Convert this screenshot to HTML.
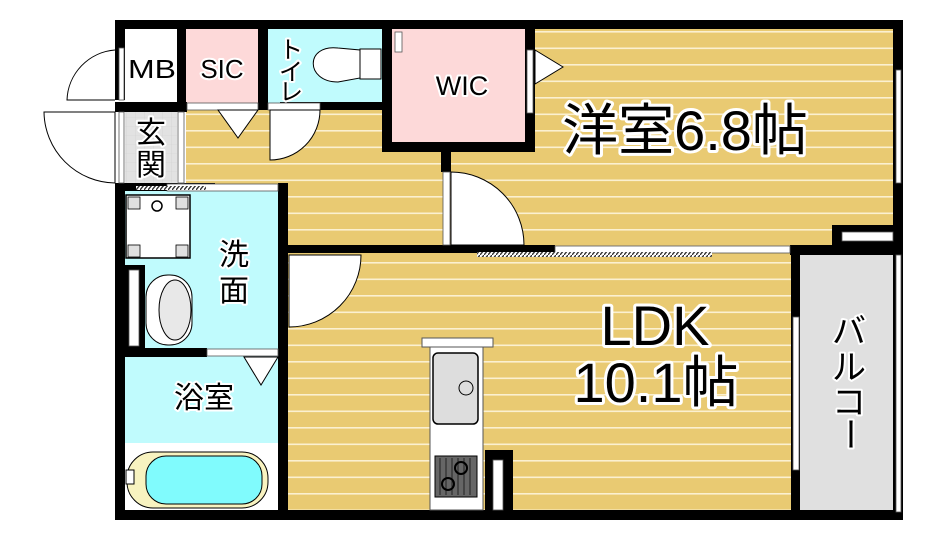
<!DOCTYPE html><html><head><meta charset="utf-8"><style>
body{margin:0;background:#fff;width:949px;height:546px;overflow:hidden}
text{font-family:"Liberation Sans","Noto Sans CJK JP",sans-serif;paint-order:stroke;stroke:#fff;stroke-linejoin:round}
</style></head><body>
<svg width="949" height="546" viewBox="0 0 949 546" xmlns="http://www.w3.org/2000/svg">
<defs>
<pattern id="wood" width="10" height="16.5" patternUnits="userSpaceOnUse"><rect width="10" height="16.5" fill="#e9ca72"/><rect y="14.5" width="10" height="1.6" fill="#fbf0d0"/></pattern>
<pattern id="hatch" width="4" height="5" patternUnits="userSpaceOnUse"><rect width="4" height="5" fill="#fff"/><path d="M0 5 L4 0" stroke="#333" stroke-width="1.4"/></pattern>
<pattern id="tile" width="9" height="9" patternUnits="userSpaceOnUse"><rect width="9" height="9" fill="#e2e2e2"/><path d="M0 0H9M0 0V9" stroke="#d0d0d0" stroke-width=".6"/></pattern>
</defs>
<rect x="186" y="108" width="260" height="140" fill="url(#wood)"/>
<rect x="446" y="24" width="452" height="224" fill="url(#wood)"/>
<rect x="284" y="250" width="512" height="265" fill="url(#wood)"/>
<rect x="125" y="29" width="54" height="75" fill="#fff"/>
<rect x="186" y="29" width="72" height="75" fill="#fdd9d9"/>
<rect x="268" y="29" width="114" height="75" fill="#c0fbfd"/>
<rect x="392" y="29" width="133" height="113" fill="#fdd9d9"/>
<rect x="125" y="112" width="52" height="71" fill="url(#tile)"/>
<rect x="125" y="190" width="155" height="322" fill="#c0fbfd"/>
<rect x="800" y="255" width="93" height="257" fill="#e0e0e0"/>
<g fill="#000">
<rect x="115" y="20" width="788" height="9"/>
<rect x="115" y="20" width="10" height="80"/>
<rect x="115" y="183" width="10" height="337"/>
<rect x="115" y="510" width="788" height="10"/>
<rect x="177" y="20" width="9" height="92"/>
<rect x="258" y="20" width="10" height="90"/>
<rect x="115" y="102" width="72" height="10"/>
<rect x="280" y="102" width="110" height="8"/>
<rect x="382" y="20" width="10" height="132"/>
<rect x="382" y="142" width="153" height="10"/>
<rect x="525" y="20" width="10" height="132"/>
<rect x="441" y="152" width="10" height="20"/>
<rect x="893" y="20" width="10" height="500"/>
<rect x="288" y="245" width="267" height="8"/>
<rect x="790" y="245" width="113" height="10"/>
<rect x="791" y="245" width="9" height="275"/>
<rect x="832" y="225" width="71" height="20"/>
<rect x="115" y="183" width="100" height="8"/>
<rect x="278" y="183" width="10" height="337"/>
<rect x="125" y="348" width="82" height="9"/>
<rect x="125" y="265" width="20" height="85"/>
<rect x="485" y="450" width="28" height="62"/>
</g>
<g fill="#fff" stroke="#555" stroke-width="0.8">
<rect x="395" y="32" width="7" height="20"/>
<rect x="119" y="48" width="5" height="52"/>
<rect x="119" y="112" width="5" height="71"/>
<rect x="178" y="112" width="6" height="71"/>
<rect x="187" y="103" width="71" height="7"/>
<rect x="268" y="103" width="52" height="7"/>
<rect x="527" y="50" width="6" height="63"/>
<rect x="443" y="172" width="7" height="73"/>
<rect x="555" y="246" width="235" height="7"/>
<rect x="896" y="70" width="5" height="113"/>
<rect x="842" y="232" width="51" height="9"/>
<rect x="793" y="317" width="6" height="153"/>
<rect x="896" y="255" width="5" height="257"/>
<rect x="207" y="349" width="71" height="7"/>
<rect x="167" y="184" width="111" height="7"/>
<rect x="129" y="270" width="10" height="76"/>
<rect x="493" y="460" width="10" height="50"/>
</g>
<rect x="477" y="252" width="235" height="5" fill="url(#hatch)"/>
<rect x="136" y="186" width="70" height="4" fill="url(#hatch)"/>
<g fill="#fff" stroke="#000" stroke-width="1">
<path d="M115 50 A52 52 0 0 0 67 100 L115 100"/>
<path d="M115 112 L44 112 A72 72 0 0 0 115 183Z"/>
<path d="M270 110 L320 110 A50 50 0 0 1 270 160Z"/>
<path d="M451 172 A73 73 0 0 1 524 245 L451 245Z"/>
<path d="M289 255 L361 255 A72 72 0 0 1 289 327Z"/>
<path d="M218 110 L258 110 L238 138Z"/>
<path d="M535 50 L563 67 L535 84Z"/>
<path d="M244 357 L278 357 L261 385Z"/>
</g>
<g stroke="#000" fill="#fff" stroke-width="1">
<path d="M338 48 C305 44 305 82 338 82 L360 78 L360 50Z"/>
<rect x="360" y="49" width="21" height="30"/>
</g>
<rect x="126" y="195" width="64" height="63" fill="#fff" stroke="#000" stroke-width="1.5"/>
<g fill="#e0e0e0" stroke="#000" stroke-width=".8"><rect x="128" y="197" width="12" height="12"/><rect x="176" y="197" width="12" height="12"/><rect x="128" y="245" width="12" height="12"/><rect x="176" y="245" width="12" height="12"/></g>
<circle cx="157" cy="206" r="5" fill="none" stroke="#000" stroke-width="1.5"/>
<rect x="146" y="275" width="46" height="70" rx="22" fill="#fff" stroke="#000"/>
<ellipse cx="175" cy="310" rx="16" ry="30" fill="#e8e8e8" stroke="#000"/>
<rect x="125" y="443" width="153" height="67" fill="#fff"/>
<rect x="127" y="452" width="141" height="56" rx="26" fill="#f8f3c0" stroke="#000"/>
<rect x="146" y="456" width="116" height="48" rx="20" fill="#80fbfd" stroke="#000"/>
<rect x="126" y="470" width="8" height="14" fill="#fff" stroke="#000"/>
<rect x="422" y="338" width="71" height="9" fill="#fff" stroke="#555"/>
<rect x="430" y="347" width="53" height="163" fill="#fff" stroke="#555"/>
<rect x="433" y="353" width="45" height="71" rx="5" fill="#ddd" stroke="#000" stroke-width="1.5"/>
<circle cx="466" cy="388" r="7" fill="#ddd" stroke="#000"/>
<rect x="435" y="456" width="42" height="41" fill="#666" stroke="#000"/>
<g stroke="#222" stroke-width="1"><path d="M440 458V495M446 458V495M452 458V495M458 458V495M464 458V495M470 458V495"/></g>
<circle cx="461" cy="468" r="6" fill="none" stroke="#000" stroke-width="2"/><circle cx="448" cy="484" r="6" fill="none" stroke="#000" stroke-width="2"/>
<g fill="#000" stroke-width="4">
<text x="152" y="78" font-size="26" text-anchor="middle" textLength="48" lengthAdjust="spacingAndGlyphs">MB</text>
<text x="222" y="78" font-size="26" text-anchor="middle">SIC</text>
<text x="462" y="95" font-size="27" text-anchor="middle">WIC</text>
<text x="291" y="58" font-size="24" text-anchor="middle">ト</text>
<text x="291" y="80" font-size="24" text-anchor="middle">イ</text>
<text x="291" y="100" font-size="24" text-anchor="middle">レ</text>
<text x="151" y="143" font-size="30" text-anchor="middle">玄</text>
<text x="151" y="175" font-size="30" text-anchor="middle">関</text>
<text x="234" y="265" font-size="30" text-anchor="middle">洗</text>
<text x="234" y="301" font-size="30" text-anchor="middle">面</text>
<text x="204" y="408" font-size="30" text-anchor="middle">浴室</text>
<text x="685" y="150" font-size="56" text-anchor="middle" stroke-width="6">洋室6.8帖</text>
<text x="655" y="345" font-size="56" text-anchor="middle" stroke-width="6">LDK</text>
<text x="656" y="402" font-size="56" text-anchor="middle" stroke-width="6">10.1帖</text>
<text x="849" y="343" font-size="34" text-anchor="middle">バ</text>
<text x="849" y="379" font-size="34" text-anchor="middle">ル</text>
<text x="849" y="414" font-size="34" text-anchor="middle">コ</text>
<text x="849" y="445" font-size="34" text-anchor="middle" transform="rotate(90 849 434)">ー</text>
</g>
</svg>
</body></html>
